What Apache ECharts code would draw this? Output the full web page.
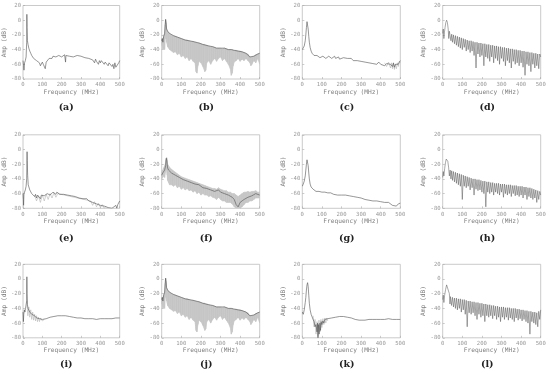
<!DOCTYPE html>
<html><head><meta charset="utf-8">
<script src="https://cdn.jsdelivr.net/npm/echarts@6/dist/echarts.min.js"></script>
<style>html,body{margin:0;padding:0;background:#fff}#c{width:550px;height:374px}</style>
</head><body><div id="c"></div><script>
const panelLetters = ['a','b','c','d','e','f','g','h','i','j','k','l'];
const xTickLabels = [0,100,200,300,400,500];
const yTickLabels = [-80,-60,-40,-20,0,20];

const aLine = [[0,-55],[3,-62],[5,-68],[8,-58],[12,-55],[16,-50],[19,-30],[20,8],[21,-10],[23,-28],[26,-33],[30,-38],[35,-42],[40,-45],[45,-48],[50,-50],[55,-52],[60,-53],[65,-50],[70,-55],[75,-53],[80,-57],[85,-58],[90,-62],[95,-60],[100,-57],[105,-60],[110,-58],[115,-66],[120,-57],[125,-55],[130,-56],[135,-52],[140,-53],[145,-50],[150,-52],[155,-49],[160,-51],[165,-49],[170,-50],[175,-48],[180,-50],[185,-48],[190,-49],[195,-48],[200,-50],[205,-48],[210,-49],[215,-47],[220,-57],[222,-48],[230,-48],[240,-49],[250,-48],[260,-50],[270,-49],[280,-48],[290,-50],[300,-49],[310,-50],[320,-51],[330,-50],[340,-52],[350,-50],[360,-54],[365,-52],[370,-58],[375,-53],[380,-56],[385,-54],[390,-60],[395,-55],[400,-58],[405,-55],[410,-57],[415,-56],[420,-60],[425,-57],[430,-59],[435,-58],[440,-62],[445,-58],[450,-60],[455,-59],[460,-63],[465,-60],[470,-66],[475,-58],[480,-64],[485,-62],[490,-65],[495,-58],[500,-55]];

const bFreq  = [0,3,6,10,15,18,20,22,25,30,40,50,60,70,80,90,100,110,120,130,140,150,160,170,175,180,185,190,200,210,220,225,230,240,250,260,270,280,290,300,310,320,330,340,350,355,360,365,370,380,390,400,410,420,430,440,450,455,460,470,480,490,500];
const bUpper = [-28,-25,-30,-22,-18,-6,1,-3,-12,-15,-18,-20,-21,-22,-23,-24,-25,-26,-27,-27,-28,-29,-29,-30,-30,-31,-31,-31,-32,-33,-33,-34,-34,-35,-36,-36,-37,-38,-38,-38,-39,-38,-39,-40,-40,-40,-40,-41,-41,-41,-42,-42,-43,-44,-45,-46,-50,-50,-50,-49,-47,-46,-45];
const bLower = [-32,-35,-40,-38,-40,-25,-10,-25,-30,-36,-40,-42,-44,-43,-47,-45,-50,-48,-52,-50,-55,-52,-56,-58,-70,-72,-62,-56,-58,-63,-70,-68,-58,-55,-60,-55,-52,-56,-52,-50,-55,-52,-56,-60,-66,-75,-72,-62,-57,-55,-52,-56,-53,-55,-52,-55,-58,-62,-60,-55,-58,-52,-60];

const cLine = [[0,-40],[5,-38],[10,-35],[15,-28],[18,-20],[21,-10],[24,-2],[26,0],[28,-4],[30,-12],[33,-22],[36,-30],[40,-37],[45,-42],[50,-45],[55,-46],[60,-48],[65,-47],[70,-49],[75,-48],[80,-50],[85,-49],[90,-51],[95,-50],[100,-52],[105,-49],[110,-51],[115,-50],[120,-52],[125,-50],[130,-51],[135,-49],[140,-51],[145,-50],[150,-52],[155,-50],[160,-51],[165,-49],[170,-52],[175,-50],[180,-51],[185,-50],[190,-53],[195,-51],[200,-52],[210,-51],[220,-53],[230,-52],[240,-54],[250,-52],[260,-55],[270,-53],[280,-55],[290,-54],[300,-56],[310,-54],[320,-57],[330,-55],[340,-58],[350,-56],[360,-59],[370,-57],[380,-60],[390,-57],[400,-60],[410,-58],[420,-62],[430,-59],[440,-61],[450,-60],[460,-63],[465,-58],[470,-64],[475,-60],[480,-62],[485,-59],[490,-60],[495,-57],[500,-55]];
const cGray = [[420,-58],[430,-63],[440,-57],[450,-65],[455,-58],[460,-66],[465,-59],[470,-67],[475,-60],[480,-66],[485,-58],[490,-63],[495,-56],[500,-58]];

const dLine = [[0,-18],[3,-12],[6,-25],[9,-16],[12,-10],[16,-3],[20,0],[24,-3],[28,-12],[31,-25],[34,-15],[38,-16],[42,-28],[46,-19],[50,-30],[55,-20],[60,-32],[65,-21],[70,-34],[75,-22],[80,-36],[85,-23],[90,-38],[95,-24],[100,-40],[105,-25],[110,-37],[115,-26],[120,-42],[125,-27],[130,-40],[135,-28],[140,-44],[145,-28],[150,-42],[155,-29],[160,-48],[165,-30],[170,-65],[175,-30],[180,-46],[185,-31],[190,-50],[195,-31],[200,-48],[205,-32],[210,-62],[215,-32],[220,-50],[225,-33],[230,-52],[235,-33],[240,-56],[245,-34],[250,-50],[255,-34],[260,-58],[265,-35],[270,-52],[275,-35],[280,-55],[285,-36],[290,-60],[295,-36],[300,-52],[305,-37],[310,-56],[315,-37],[320,-62],[325,-38],[330,-55],[335,-38],[340,-58],[345,-39],[350,-65],[355,-39],[360,-56],[365,-40],[370,-60],[375,-40],[380,-58],[385,-41],[390,-62],[395,-41],[400,-58],[405,-42],[410,-64],[415,-42],[420,-75],[425,-43],[430,-60],[435,-43],[440,-62],[445,-44],[450,-70],[455,-44],[460,-60],[465,-45],[470,-65],[475,-45],[480,-62],[485,-46],[490,-66],[495,-46],[500,-50]];

const eLine = [[0,-60],[2,-68],[3,-76],[5,-60],[8,-58],[12,-55],[16,-50],[19,-40],[21,-3],[22,-15],[24,-35],[27,-48],[30,-50],[35,-55],[40,-57],[45,-60],[50,-62],[55,-60],[60,-64],[65,-61],[70,-66],[75,-62],[80,-64],[85,-60],[90,-67],[95,-62],[100,-64],[105,-60],[110,-63],[115,-61],[120,-64],[125,-60],[130,-62],[135,-59],[140,-62],[145,-60],[150,-61],[155,-58],[160,-60],[165,-59],[170,-61],[175,-58],[180,-60],[185,-59],[190,-61],[195,-59],[200,-60],[210,-61],[220,-60],[230,-62],[240,-61],[250,-63],[260,-62],[270,-64],[280,-64],[290,-66],[300,-65],[310,-67],[320,-68],[330,-67],[340,-70],[350,-69],[360,-72],[370,-70],[380,-74],[390,-72],[400,-76],[410,-74],[420,-77],[430,-76],[440,-79],[450,-78],[460,-80],[470,-79],[480,-76],[485,-80],[490,-75],[495,-73],[500,-70]];
const eGray = [[60,-62],[70,-70],[80,-63],[90,-72],[100,-62],[110,-70],[120,-61],[130,-68],[140,-60],[150,-66],[160,-59],[170,-65],[180,-60],[350,-70],[360,-76],[370,-71],[380,-78],[390,-73],[400,-79],[410,-75],[420,-80],[430,-77]];

const fFreq  = [0,5,10,15,20,22,25,28,30,35,40,50,60,70,80,90,100,110,120,130,140,150,160,170,180,190,200,210,220,230,240,250,260,270,280,290,300,310,320,330,340,350,360,370,380,390,400,410,420,430,440,450,460,470,480,490,500];
const fLine  = [-35,-32,-30,-28,-22,-15,-12,-20,-25,-28,-30,-32,-33,-35,-37,-38,-40,-41,-42,-43,-44,-45,-46,-47,-48,-48,-50,-52,-52,-53,-54,-55,-56,-57,-58,-55,-58,-60,-60,-62,-62,-63,-65,-68,-75,-78,-72,-70,-68,-66,-65,-64,-63,-62,-60,-60,-62];
const fUpper = [-30,-28,-25,-22,-18,-12,-11,-15,-20,-22,-24,-27,-29,-31,-33,-35,-37,-38,-39,-40,-41,-42,-43,-44,-45,-46,-47,-48,-49,-50,-51,-52,-53,-53,-54,-52,-54,-55,-56,-56,-58,-58,-60,-60,-62,-64,-62,-60,-58,-58,-57,-58,-57,-57,-56,-58,-58];
const fLower = [-40,-38,-36,-38,-30,-25,-28,-35,-42,-45,-48,-48,-50,-48,-52,-50,-54,-52,-55,-53,-56,-55,-58,-56,-60,-58,-62,-60,-62,-62,-64,-63,-65,-66,-68,-65,-68,-70,-70,-72,-72,-72,-74,-78,-80,-80,-80,-78,-75,-72,-72,-70,-70,-68,-66,-66,-66];

const gLine = [[0,-50],[5,-47],[10,-43],[15,-36],[18,-28],[21,-20],[24,-14],[26,-12],[28,-15],[30,-22],[33,-32],[36,-40],[40,-47],[45,-51],[50,-53],[55,-54],[60,-55],[65,-56],[70,-57],[75,-56],[80,-58],[85,-57],[90,-59],[95,-58],[100,-58],[105,-57],[110,-59],[115,-58],[120,-60],[125,-58],[130,-59],[135,-58],[140,-60],[145,-59],[150,-60],[160,-61],[170,-60],[180,-62],[190,-61],[200,-62],[210,-63],[220,-62],[230,-64],[240,-63],[250,-65],[260,-64],[270,-66],[280,-65],[290,-67],[300,-66],[310,-67],[320,-68],[330,-67],[340,-69],[350,-68],[360,-70],[370,-69],[380,-70],[390,-70],[400,-71],[410,-71],[420,-72],[430,-73],[440,-72],[450,-74],[460,-76],[470,-74],[480,-77],[490,-74],[500,-73]];

const hLine = [[0,-38],[3,-30],[6,-36],[10,-26],[14,-18],[18,-13],[22,-12],[26,-16],[30,-24],[34,-36],[38,-28],[42,-40],[46,-29],[50,-42],[55,-30],[60,-44],[65,-31],[70,-46],[75,-32],[80,-48],[85,-33],[90,-50],[95,-34],[100,-68],[105,-35],[110,-50],[115,-36],[120,-52],[125,-37],[130,-50],[135,-38],[140,-55],[145,-39],[150,-52],[155,-40],[160,-62],[165,-40],[170,-54],[175,-41],[180,-56],[185,-41],[190,-55],[195,-42],[200,-58],[205,-43],[210,-60],[215,-43],[220,-78],[225,-44],[230,-58],[235,-44],[240,-60],[245,-45],[250,-58],[255,-45],[260,-62],[265,-46],[270,-58],[275,-46],[280,-60],[285,-46],[290,-62],[295,-47],[300,-58],[305,-47],[310,-65],[315,-47],[320,-60],[325,-48],[330,-62],[335,-48],[340,-60],[345,-48],[350,-64],[355,-49],[360,-60],[365,-49],[370,-63],[375,-49],[380,-62],[385,-50],[390,-64],[395,-50],[400,-62],[405,-50],[410,-66],[415,-51],[420,-62],[425,-51],[430,-68],[435,-52],[440,-64],[445,-52],[450,-66],[455,-53],[460,-68],[465,-54],[470,-66],[475,-55],[480,-72],[485,-56],[490,-68],[495,-57],[500,-62]];

const iLine = [[0,-45],[2,-58],[4,-48],[7,-42],[10,-45],[13,-40],[16,-38],[19,-30],[20,3],[21,-20],[23,-35],[26,-40],[30,-42],[35,-45],[40,-44],[45,-48],[50,-47],[55,-50],[60,-50],[65,-52],[70,-53],[75,-53],[80,-55],[85,-54],[90,-56],[95,-55],[100,-55],[110,-55],[120,-54],[130,-53],[140,-52],[150,-52],[160,-51],[170,-51],[180,-50],[190,-50],[200,-50],[210,-50],[220,-50],[230,-50],[240,-51],[250,-51],[260,-52],[270,-52],[280,-53],[290,-53],[300,-53],[320,-54],[340,-54],[360,-54],[380,-55],[400,-54],[420,-54],[440,-54],[460,-54],[480,-53],[500,-53]];
const iGray = [[20,-30],[25,-50],[30,-38],[35,-52],[40,-42],[45,-55],[50,-45],[55,-56],[60,-48],[65,-57],[70,-50],[75,-58],[80,-52],[85,-58],[90,-53],[100,-57],[110,-55]];

const kLine = [[0,-45],[5,-48],[10,-42],[15,-32],[18,-25],[21,-15],[24,-8],[27,-5],[30,-10],[33,-22],[36,-33],[40,-42],[45,-48],[50,-50],[55,-55],[60,-58],[65,-65],[70,-62],[75,-72],[78,-60],[80,-80],[83,-62],[86,-75],[90,-60],[93,-70],[96,-58],[100,-62],[105,-57],[110,-60],[115,-55],[120,-57],[130,-54],[140,-53],[150,-53],[160,-52],[170,-52],[180,-51],[190,-51],[200,-51],[210,-51],[220,-51],[230,-52],[240,-52],[250,-53],[260,-54],[270,-55],[280,-55],[290,-56],[300,-56],[320,-56],[340,-55],[360,-55],[380,-55],[400,-55],[420,-55],[440,-54],[460,-55],[480,-55],[500,-55]];
const kGray = [[55,-50],[60,-65],[65,-55],[70,-75],[75,-58],[80,-78],[85,-56],[90,-72],[95,-55],[100,-66],[105,-54],[110,-62],[115,-53],[120,-60],[125,-53],[130,-57]];

const lLine = [[0,-28],[3,-22],[6,-32],[10,-22],[15,-14],[20,-8],[25,-6],[30,-10],[34,-20],[37,-34],[40,-24],[45,-36],[50,-25],[55,-38],[60,-26],[65,-40],[70,-26],[75,-42],[80,-27],[85,-40],[90,-27],[95,-45],[100,-28],[105,-42],[110,-28],[115,-48],[120,-29],[125,-65],[130,-30],[135,-46],[140,-30],[145,-48],[150,-31],[155,-46],[160,-31],[165,-50],[170,-32],[175,-55],[180,-32],[185,-48],[190,-33],[195,-52],[200,-33],[205,-50],[210,-34],[215,-58],[220,-34],[225,-50],[230,-35],[235,-52],[240,-35],[245,-50],[250,-36],[255,-54],[260,-36],[265,-50],[270,-37],[275,-55],[280,-37],[285,-52],[290,-38],[295,-58],[300,-38],[305,-52],[310,-38],[315,-55],[320,-39],[325,-52],[330,-39],[335,-56],[340,-39],[345,-53],[350,-40],[355,-55],[360,-40],[365,-58],[370,-40],[375,-53],[380,-41],[385,-56],[390,-41],[395,-54],[400,-42],[405,-57],[410,-42],[415,-55],[420,-43],[425,-58],[430,-43],[435,-60],[440,-44],[445,-75],[450,-44],[455,-58],[460,-45],[465,-60],[470,-45],[475,-62],[480,-46],[485,-65],[490,-44],[495,-55],[500,-42]];

const colLefts = [21.7, 161.7, 302.3, 442.7];
const rowTops = [5.5, 134.8, 264.3];
const labelYs = [108, 239, 365];
const PW = 98, PH = 73.5;
const MONO = '"DejaVu Sans Mono", "Liberation Mono", monospace';
const LINE = '#505050', BAND = '#c6c6c6', GRAY = '#b4b4b4';

const pairs = (fr, v) => fr.map((f, i) => [f, v[i]]);
const triples = (fr, up, lo) => fr.map((f, i) => [f, up[i], lo[i]]);

const panelSeries = [
  [{d: aLine}],
  [{band: [bFreq, bUpper, bLower]}, {d: pairs(bFreq, bUpper)}],
  [{d: cGray, c: GRAY}, {d: cLine}],
  [{d: dLine, w: 0.5}],
  [{d: eGray, c: GRAY}, {d: eLine}],
  [{band: [fFreq, fUpper, fLower]}, {d: pairs(fFreq, fLine)}],
  [{d: gLine}],
  [{d: hLine, w: 0.5}],
  [{d: iGray, c: GRAY}, {d: iLine}],
  [{band: [bFreq, bUpper, bLower]}, {d: pairs(bFreq, bUpper)}],
  [{d: kGray, c: GRAY}, {d: kLine}],
  [{d: lLine, w: 0.5}]
];

function renderBand(params, api) {
  const i = params.dataIndexInside;
  if (i >= params.dataInsideLength - 1) return null;
  const a1 = api.coord([api.value(0, i), api.value(1, i)]);
  const a2 = api.coord([api.value(0, i + 1), api.value(1, i + 1)]);
  const b2 = api.coord([api.value(0, i + 1), api.value(2, i + 1)]);
  const b1 = api.coord([api.value(0, i), api.value(2, i)]);
  return {type: 'polygon', shape: {points: [a1, a2, b2, b1]},
    style: {fill: BAND, stroke: BAND, lineWidth: 0.6}};
}

const grid = [], xAxis = [], yAxis = [], series = [], graphic = [];
panelLetters.forEach((L, p) => {
  const col = p % 4, row = Math.floor(p / 4);
  grid.push({left: colLefts[col], top: rowTops[row], width: PW, height: PH, show: true,
    borderColor: '#bdbdbd', borderWidth: 0.8, backgroundColor: 'transparent'});
  xAxis.push({gridIndex: p, type: 'value', min: 0, max: 500, interval: 100,
    name: 'Frequency (MHz)', nameLocation: 'middle', nameGap: 10,
    nameTextStyle: {fontFamily: MONO, fontSize: 6.2, color: '#808080'},
    axisLine: {show: false, onZero: false}, splitLine: {show: false},
    axisTick: {show: true, inside: true, length: 2, lineStyle: {color: '#aaa', width: 0.6}},
    axisLabel: {fontFamily: MONO, fontSize: 5.6, color: '#999', margin: 3}});
  yAxis.push({gridIndex: p, type: 'value', min: -80, max: 20, interval: 20,
    name: 'Amp (dB)', nameLocation: 'middle', nameGap: 13,
    nameTextStyle: {fontFamily: MONO, fontSize: 6.2, color: '#808080'},
    axisLine: {show: false, onZero: false}, splitLine: {show: false},
    axisTick: {show: true, inside: true, length: 2, lineStyle: {color: '#aaa', width: 0.6}},
    axisLabel: {fontFamily: MONO, fontSize: 5.6, color: '#999', margin: 2}});
  panelSeries[p].forEach((s) => {
    if (s.band) {
      const [fr, up, lo] = s.band;
      series.push({type: 'custom', xAxisIndex: p, yAxisIndex: p, data: triples(fr, up, lo),
        encode: {x: 0, y: [1, 2]}, renderItem: renderBand, silent: true, z: 1, clip: true});
    } else {
      series.push({type: 'line', xAxisIndex: p, yAxisIndex: p, data: s.d, symbol: 'none',
        lineStyle: {color: s.c || LINE, width: s.w || 0.6}, silent: true, z: 2});
    }
  });
  graphic.push({type: 'text', x: colLefts[col] + 44.5, y: labelYs[row],
    style: {text: '(' + L + ')', font: 'bold 9.5px "DejaVu Serif", serif', fill: '#222',
      textAlign: 'center', textVerticalAlign: 'middle'}});
});

const chart = echarts.init(document.getElementById('c'), null, {renderer: 'canvas'});
chart.setOption({animation: false, grid, xAxis, yAxis, series, graphic});
</script></body></html>
